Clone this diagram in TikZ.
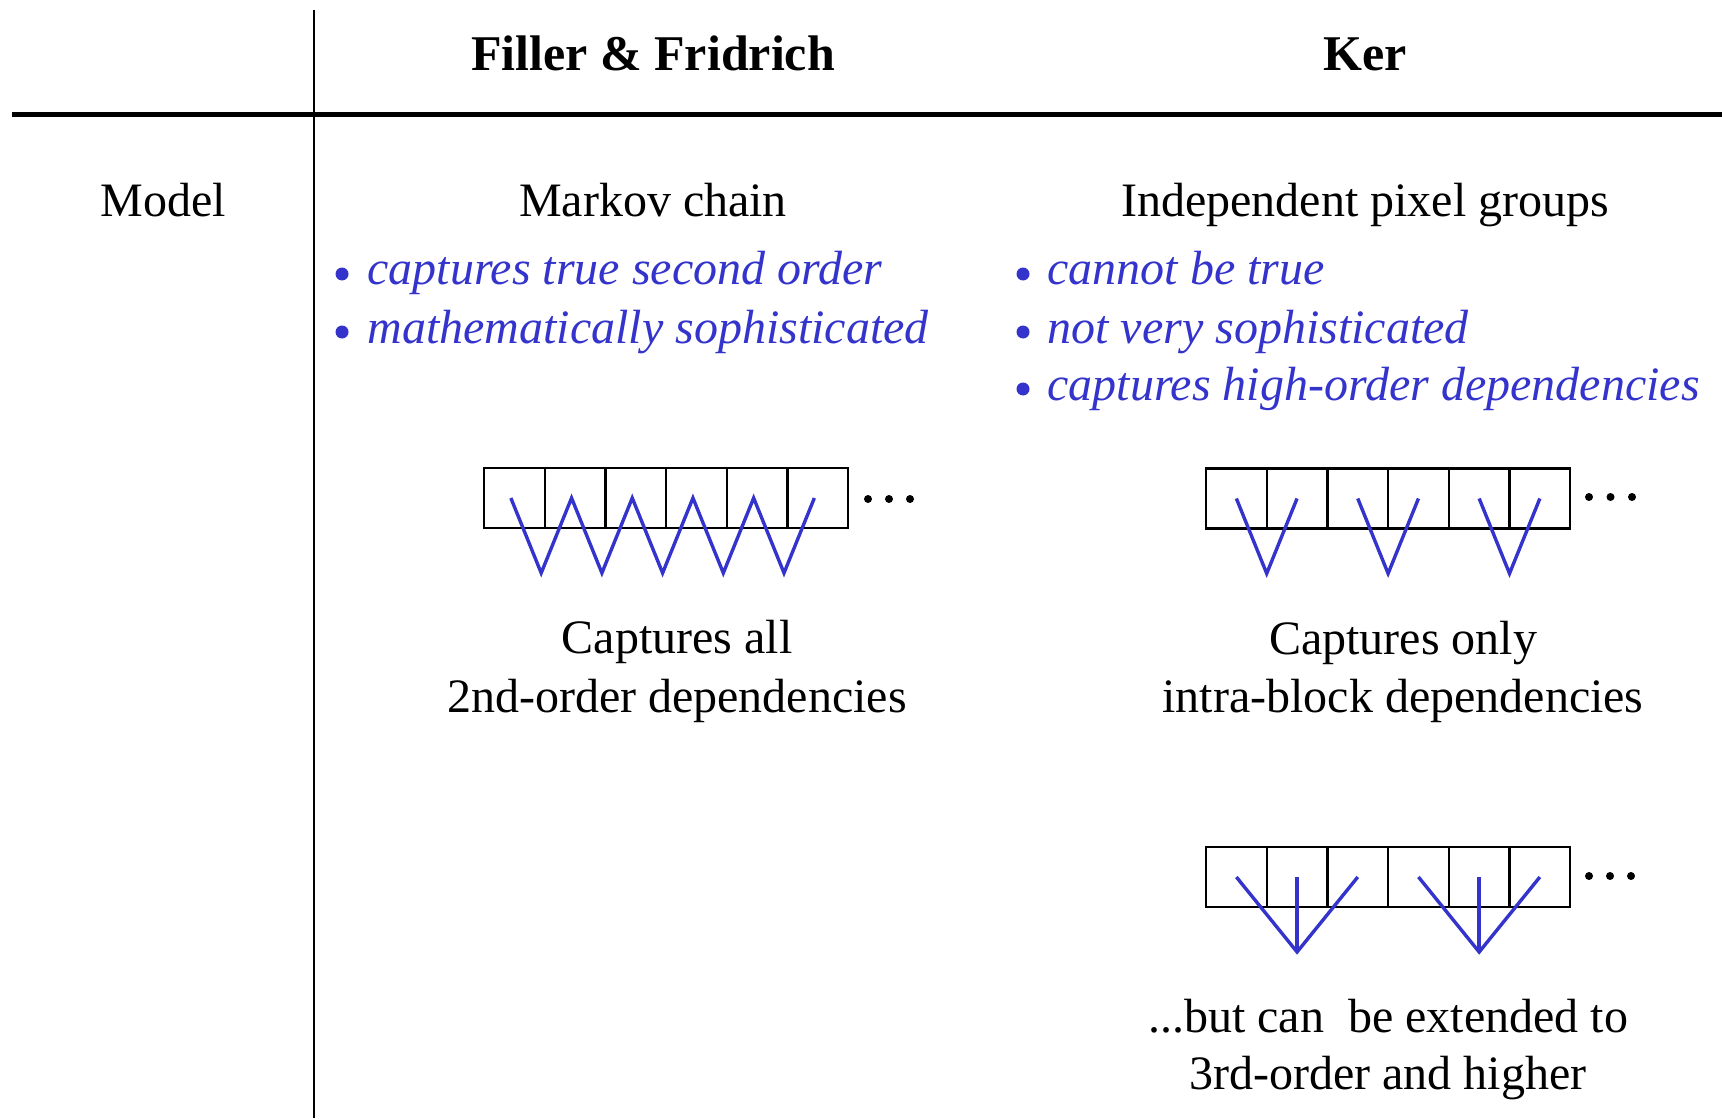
\documentclass[tikz,border=0pt]{standalone}
\usepackage{fontspec}
\setmainfont{Liberation Serif}
\usetikzlibrary{calc}
\definecolor{linkblue}{RGB}{52,52,204}
\begin{document}
\begin{tikzpicture}[x=0.5pt,y=-0.5pt,
  txt/.style={anchor=base,inner sep=0,font=\fontsize{24}{29}\selectfont},
  head/.style={anchor=base,inner sep=0,font=\fontsize{25}{30}\selectfont\bfseries},
  point/.style={anchor=base west,inner sep=0,text=linkblue,font=\fontsize{24}{29}\selectfont\itshape},
  bul/.style={circle,fill=linkblue,inner sep=0,minimum size=6.5pt},
  cell/.style={draw,line width=1.2pt,minimum width=30.35pt,minimum height=30pt,inner sep=0,outer sep=0},
  link/.style={draw=linkblue,line width=1.7pt,line join=miter},
  dot/.style={circle,fill,inner sep=0,minimum size=4pt}]
\useasboundingbox (0,0) rectangle (1722,1118);

% table rules
\coordinate (ruleL) at (12,115);
\coordinate (ruleR) at (1722,115);
\coordinate (colT) at (314,10);
\coordinate (colB) at (314,1118);
\draw[line width=2.5pt] (ruleL) -- (ruleR);
\draw[line width=1.1pt] (colT) -- (colB);

% column headings
\node[head] (hFF) at (653,71) {Filler \& Fridrich};
\node[head] (hKer) at (1365,71) {Ker};

% model row
\node[txt] (model) at (163,217) {Model};
\node[txt] (markov) at (653,217) {Markov chain};
\node[txt] (indep) at (1365,217) {Independent pixel groups};

% bullet points, left column
\node[bul] (lb1) at (342,274) {};
\node[point] (lt1) at (367,285) {captures true second order};
\node[bul] (lb2) at (342,332) {};
\node[point] (lt2) at (367,343) {mathematically sophisticated};

% bullet points, right column
\node[bul] (rb1) at (1023,274) {};
\node[point] (rt1) at (1047,285) {cannot be true};
\node[bul] (rb2) at (1023,332) {};
\node[point] (rt2) at (1047,343) {not very sophisticated};
\node[bul] (rb3) at (1023,389) {};
\node[point] (rt3) at (1047,400) {captures high-order dependencies};

% pixel rows
\foreach \i in {0,...,5} {
  \node[cell] (L\i) at ({484+30.35+60.7*\i},498) {};
  \node[cell] (A\i) at ({1206+30.35+60.7*\i},498.5) {};
  \node[cell] (B\i) at ({1206+30.35+60.7*\i},877) {};
}

% trailing dots
\foreach \k in {0,1,2} {
  \node[dot] (Ld\k) at ({868+21*\k},499) {};
  \node[dot] (Ad\k) at ({1589+21.5*\k},497) {};
  \node[dot] (Bd\k) at ({1589+21*\k},876) {};
}

% Markov chain: every pair of neighbours
\draw[link] ([xshift=-1.75pt]L0.center)
  -- ($(L0.south east)+(-3.5,45)$) -- ([xshift=-1.75pt]L1.center)
  -- ($(L1.south east)+(-3.5,45)$) -- ([xshift=-1.75pt]L2.center)
  -- ($(L2.south east)+(-3.5,45)$) -- ([xshift=-1.75pt]L3.center)
  -- ($(L3.south east)+(-3.5,45)$) -- ([xshift=-1.75pt]L4.center)
  -- ($(L4.south east)+(-3.5,45)$) -- ([xshift=-1.75pt]L5.center);

% pairs within blocks of two
\foreach \a/\b in {0/1,2/3,4/5} {
  \draw[link] (A\a.center) -- ($(A\a.south east)+(0,45)$) -- (A\b.center);
}

% triples within blocks of three
\foreach \a/\m/\b in {0/1/2,3/4/5} {
  \coordinate (F\m) at ($(B\m.south)+(0,45)$);
  \draw[link] (B\a.center) -- (F\m) -- (B\b.center);
  \draw[link] (B\m.center) -- (F\m);
}

% captions
\node[txt] (capLa) at (677,653) {Captures all};
\node[txt] (capLb) at (677,712) {2nd-order dependencies};
\node[txt] (capAa) at (1403,654) {Captures only};
\node[txt] (capAb) at (1403,712) {intra-block dependencies};
\node[txt] (capBa) at (1388,1032) {...but can~~be extended to};
\node[txt] (capBb) at (1388,1089) {3rd-order and higher};
\end{tikzpicture}
\end{document}
